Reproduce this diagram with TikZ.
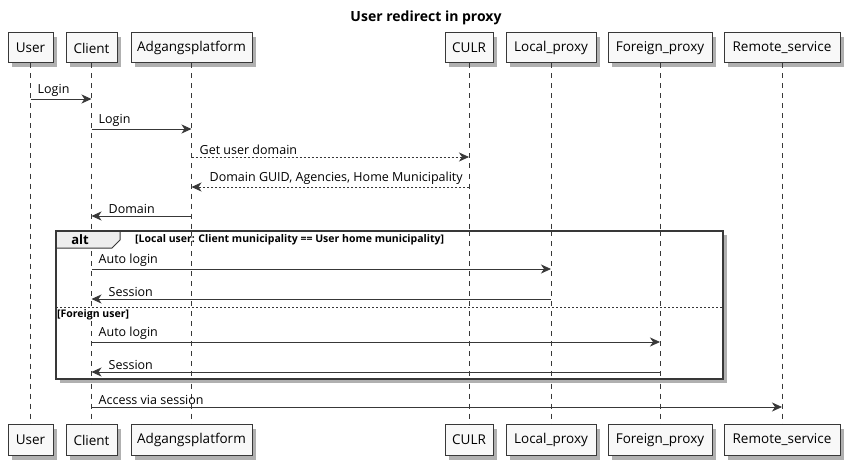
\documentclass[tikz,border=0pt]{standalone}
\usepackage{fontspec}
\setmainfont{Open Sans}
\usetikzlibrary{arrows.meta}
\definecolor{ln}{HTML}{383838}
\definecolor{bx}{HTML}{F8F8F8}
\definecolor{tabc}{HTML}{EEEEEE}
\definecolor{shd}{HTML}{B0B0B0}
\begin{document}
\begin{tikzpicture}[x=1pt,y=-1pt,
  part/.style={draw=ln,fill=bx,line width=1pt,minimum height=30pt,inner sep=0pt,
    font=\fontsize{13.5}{15}\selectfont},
  life/.style={draw=ln,line width=0.7pt,dash pattern=on 5pt off 5pt},
  msg/.style={draw=ln,line width=0.8pt,-{Stealth[length=10pt,width=9pt,inset=3pt]}},
  amsg/.style={msg,dash pattern=on 2pt off 2pt},
  lbl/.style={inner sep=0pt,anchor=south west,font=\fontsize{12.5}{14}\selectfont},
  cond/.style={inner sep=0pt,anchor=west,font=\bfseries\fontsize{10.5}{12}\selectfont},
]
\useasboundingbox (0,0) rectangle (850,465);
\node[font=\bfseries\fontsize{14}{16}\selectfont] (title) at (426,18) {User redirect in proxy};

% participants: name, text, centre x, width
\foreach \n/\t/\x/\w in {User/User/30.5/45, Client/Client/91.5/51, Adg/Adgangsplatform/191.5/121,
  CULR/CULR/469/48, Local/Local\_proxy/551/90, Foreign/Foreign\_proxy/660/104,
  Remote/Remote\_service/782/116}{
  \fill[shd] (\x-\w/2+4,37) rectangle (\x+\w/2+4,67);
  \node[part,minimum width=\w pt] (\n) at (\x,48) {\t};
  \fill[shd] (\x-\w/2+4,429) rectangle (\x+\w/2+4,460);
  \node[part,minimum width=\w pt,minimum height=31pt] (\n B) at (\x,440) {\t};
  \draw[life] (\n.south) -- (\n B.north);
}

% messages
\draw[msg] (User |- 0,99) -- (Client |- 0,99);
\node[lbl] at ([xshift=7pt,yshift=2pt]User |- 0,99) {Login};
\draw[msg] (Client |- 0,129) -- (Adg |- 0,129);
\node[lbl] at ([xshift=7pt,yshift=2pt]Client |- 0,129) {Login};
\draw[amsg] (Adg |- 0,157) -- (CULR |- 0,157);
\node[lbl] at ([xshift=8pt,yshift=2pt]Adg |- 0,157) {Get user domain};
\draw[amsg] (CULR |- 0,187) -- (Adg |- 0,187);
\node[lbl] at ([xshift=18pt,yshift=2pt]Adg |- 0,187) {Domain GUID, Agencies, Home Municipality};
\draw[msg] (Adg |- 0,216) -- (Client |- 0,216);
\node[lbl] at ([xshift=17pt,yshift=2pt]Client |- 0,216) {Domain};

% alt frame
\fill[shd] (60,235) rectangle (727,383);
\fill[white] (56,231) rectangle (723,379);
% lifelines inside frame
\foreach \n in {Client,Adg,CULR,Local,Foreign}{
  \draw[life] (\n |- 0,231) -- (\n |- 0,379);
}
\filldraw[fill=tabc,draw=ln,line width=1pt] (56,231) -- (120,231) -- (120,240) -- (112,248) -- (56,248) -- cycle;
\node[inner sep=0pt,font=\bfseries\fontsize{13}{15}\selectfont] (alt) at (80,239.5) {alt};
\node[cond] (c1) at (135,240) {[Local user: Client municipality == User home municipality]};
\draw[ln,line width=0.8pt,dash pattern=on 2pt off 2pt] (56,307) -- (723,307);
\node[cond] (c2) at (57,314.5) {[Foreign user]};
\draw[ln,line width=1.6pt] (56,231) rectangle (723,379);

\draw[msg] (Client |- 0,269) -- (Local |- 0,269);
\node[lbl] at ([xshift=7pt,yshift=2pt]Client |- 0,269) {Auto login};
\draw[msg] (Local |- 0,299) -- (Client |- 0,299);
\node[lbl] at ([xshift=17pt,yshift=2pt]Client |- 0,299) {Session};
\draw[msg] (Client |- 0,342) -- (Foreign |- 0,342);
\node[lbl] at ([xshift=7pt,yshift=2pt]Client |- 0,342) {Auto login};
\draw[msg] (Foreign |- 0,372) -- (Client |- 0,372);
\node[lbl] at ([xshift=17pt,yshift=2pt]Client |- 0,372) {Session};

\draw[msg] (Client |- 0,407) -- (Remote |- 0,407);
\node[lbl] at ([xshift=7pt,yshift=2pt]Client |- 0,407) {Access via session};
\end{tikzpicture}
\end{document}
